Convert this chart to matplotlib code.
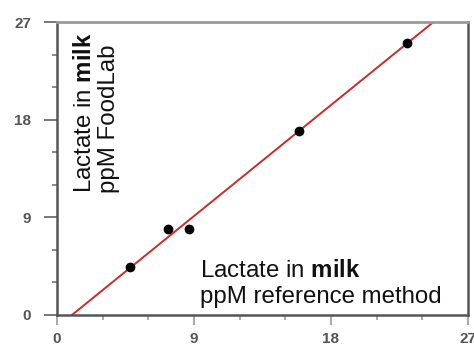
import numpy as np
import matplotlib.pyplot as plt
from matplotlib.ticker import MultipleLocator

plt.rcParams['font.family'] = ['Liberation Sans', 'DejaVu Sans']
plt.rcParams['mathtext.fontset'] = 'custom'
plt.rcParams['mathtext.rm'] = 'Liberation Sans'
plt.rcParams['mathtext.bf'] = 'Liberation Sans:bold'

# reference method (x) vs FoodLab (y), ppM lactate in milk
ref_ppm = [4.8, 7.3, 8.7, 15.9, 23.0]
foodlab_ppm = [4.4, 7.9, 7.9, 17.0, 25.1]
ticks = [0, 9, 18, 27]

fig = plt.figure(figsize=(4.74, 3.54), dpi=100)
ax = fig.add_axes([57 / 474, 39 / 354, 411 / 474, 293 / 354])

# regression line through the points
slope, icpt = np.polyfit(ref_ppm, foodlab_ppm, 1)
xl = np.array([0, 27])
ax.plot(xl, slope * xl + icpt, color='#cc2a2a', lw=1.4, zorder=2)
ax.plot(ref_ppm, foodlab_ppm, 'o', color='black', ms=6, zorder=3)

ax.set_xlim(0, 27)
ax.set_ylim(0, 27)
ax.set_xticks(ticks)
ax.set_yticks(ticks)
ax.xaxis.set_minor_locator(MultipleLocator(3))
ax.yaxis.set_minor_locator(MultipleLocator(3))

for side in ['left', 'bottom', 'right']:
    ax.spines[side].set_color('#555555')
    ax.spines[side].set_linewidth(1.8)
ax.spines['top'].set_color('#9a9a9a')
ax.spines['top'].set_linewidth(2)

ax.tick_params(axis='y', which='major', direction='out', length=9.5, width=1.4,
               color='#777777', pad=9, labelsize=11, labelcolor='#555555')
ax.tick_params(axis='y', which='minor', direction='out', length=3.6, width=1.2,
               color='#777777')
ax.tick_params(axis='x', which='major', direction='out', length=7, width=1.2,
               color='#999999', pad=5, labelsize=11, labelcolor='#555555')
ax.tick_params(axis='x', which='minor', direction='out', length=3.6, width=1.2,
               color='#999999')
for lab in ax.get_xticklabels() + ax.get_yticklabels():
    lab.set_fontweight('bold')

fs = 17.3
# y axis label, written inside the plot
ax.text(2.25, 11.2, r'Lactate in $\mathbf{milk}$', rotation=90, rotation_mode='anchor',
        ha='left', va='baseline', fontsize=fs, color='#111111')
ax.text(3.8, 11.2, 'ppM FoodLab', rotation=90, rotation_mode='anchor',
        ha='left', va='baseline', fontsize=fs, color='#111111')
# x axis label
ax.text(9.4, 3.5, r'Lactate in $\mathbf{milk}$', ha='left', va='baseline',
        fontsize=fs, color='#111111')
ax.text(9.4, 1.1, 'ppM reference method', ha='left', va='baseline',
        fontsize=fs, color='#111111')

fig.savefig('out.png', dpi=100)
